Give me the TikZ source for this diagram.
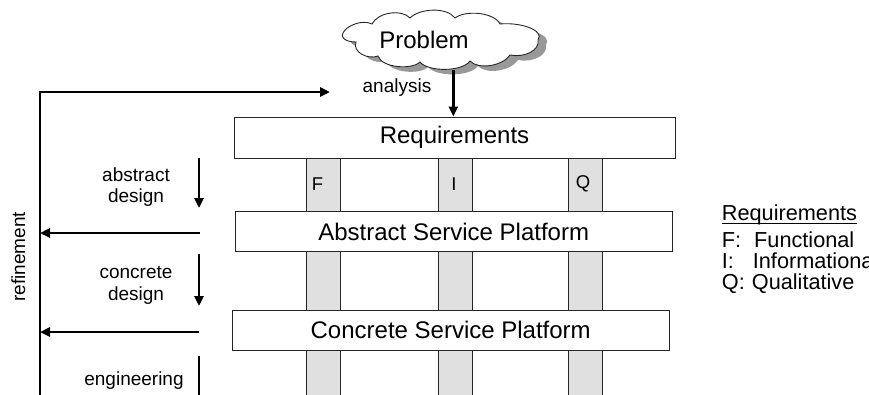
\documentclass[tikz,border=0pt]{standalone}
\usepackage{fontspec}
\setmainfont{Liberation Sans}
\usetikzlibrary{arrows.meta}
\begin{document}
\begin{tikzpicture}[x=1pt,y=-1pt,
 box/.style={draw=black!85, line width=0.9pt, fill=white, inner sep=0pt, font=\fontsize{24}{28}\selectfont},
 col/.style={draw=black!85, line width=0.9pt, fill=black!12},
 lbl/.style={font=\fontsize{19}{22}\selectfont, inner sep=0pt, anchor=base},
 leg/.style={font=\fontsize{21.7}{25}\selectfont, inner sep=0pt, anchor=base west},
 arr/.style={line width=2.6pt, -{Triangle[length=10pt,width=9pt]}},
 bar/.style={line width=2.6pt}]
\useasboundingbox (0,0) rectangle (869,394);
% requirement columns
\foreach \a/\b in {306/340,438/472,568/602} \draw[col] (\a,157) rectangle (\b,400);
% layer boxes
\node[box, minimum width=441pt, minimum height=41pt] (req) at (454.5,137.5) {Requirements};
\node[box, minimum width=436.5pt, minimum height=40pt] (asp) at (453.7,231.7) {Abstract Service Platform};
\node[box, minimum width=436.5pt, minimum height=40.7pt] (csp) at (450.7,330.3) {Concrete Service Platform};
\node[lbl, anchor=center, font=\fontsize{18.5}{22}\selectfont] (f) at (317.5,184) {F};
\node[lbl, anchor=center, font=\fontsize{18.5}{22}\selectfont] (i) at (454,184) {I};
\node[lbl, anchor=center, font=\fontsize{18.5}{22}\selectfont] (q) at (583,184) {Q};
% cloud with shadow
\begin{scope}[shift={(8,5)}]
\fill[black!40] (343,33) .. controls (346,26) and (362,19) .. (372,24)
  .. controls (378,12) and (402,9) .. (410,18)
  .. controls (420,8) and (447,7) .. (455,18)
  .. controls (465,10) and (494,12) .. (500,24)
  .. controls (520,22) and (545,30) .. (538,40)
  .. controls (540,50) and (525,58) .. (510,55)
  .. controls (503,66) and (478,70) .. (470,61)
  .. controls (462,72) and (428,72) .. (420,62)
  .. controls (412,70) and (382,68) .. (378,56)
  .. controls (368,60) and (352,52) .. (356,42)
  .. controls (345,42) and (340,37) .. (343,33) -- cycle;
\end{scope}
\draw[black!85, line width=0.9pt, fill=white] (343,33) .. controls (346,26) and (362,19) .. (372,24)
  .. controls (378,12) and (402,9) .. (410,18)
  .. controls (420,8) and (447,7) .. (455,18)
  .. controls (465,10) and (494,12) .. (500,24)
  .. controls (520,22) and (545,30) .. (538,40)
  .. controls (540,50) and (525,58) .. (510,55)
  .. controls (503,66) and (478,70) .. (470,61)
  .. controls (462,72) and (428,72) .. (420,62)
  .. controls (412,70) and (382,68) .. (378,56)
  .. controls (368,60) and (352,52) .. (356,42)
  .. controls (345,42) and (340,37) .. (343,33) -- cycle;
\node[font=\fontsize{24}{28}\selectfont, inner sep=0pt] (prob) at (424,40) {Problem};
% analysis
\coordinate (an) at (453.3,70);
\draw[arr] (an) -- (req.north -| an);
\node[lbl] (analysis) at (397,92.3) {analysis};
% refinement
\coordinate (rb) at (40,400);
\coordinate (rt) at (40,92);
\coordinate (re) at (330,92);
\draw[arr, line join=miter] (rb) -- (rt) -- (re);
\node[lbl, rotate=90] (refinement) at (25,257) {refinement};
\coordinate (l1) at (200,233);
\coordinate (l2) at (199,332);
\draw[arr] (l1) -- (l1 -| rt);
\draw[arr] (l2) -- (l2 -| rt);
% design steps
\coordinate (d1s) at (199,158); \coordinate (d1e) at (199,208);
\coordinate (d2s) at (199,254); \coordinate (d2e) at (199,306);
\coordinate (d3s) at (199,356); \coordinate (d3e) at (199,400);
\draw[arr] (d1s) -- (d1e);
\draw[arr] (d2s) -- (d2e);
\draw[bar] (d3s) -- (d3e);
\node[lbl] (abs1) at (136,181) {abstract};
\node[lbl] (abs2) at (136,202.3) {design};
\node[lbl] (con1) at (136,278.5) {concrete};
\node[lbl] (con2) at (136,300.6) {design};
\node[lbl] (eng) at (134,385) {engineering};
% legend
\node[leg] (lt) at (721.7,220.7) {Requirements};
\draw[line width=1.3pt] ([yshift=-3pt]lt.base west) -- ([yshift=-3pt]lt.base east);
\node[leg] (lf) at (721.7,247.3) {\makebox[32.3pt][l]{F:}Functional};
\node[leg] (li) at (721.7,268.3) {\makebox[31pt][l]{I:}Informational};
\node[leg] (lq) at (721.7,289) {\makebox[30pt][l]{Q:}Qualitative};
\end{tikzpicture}
\end{document}
